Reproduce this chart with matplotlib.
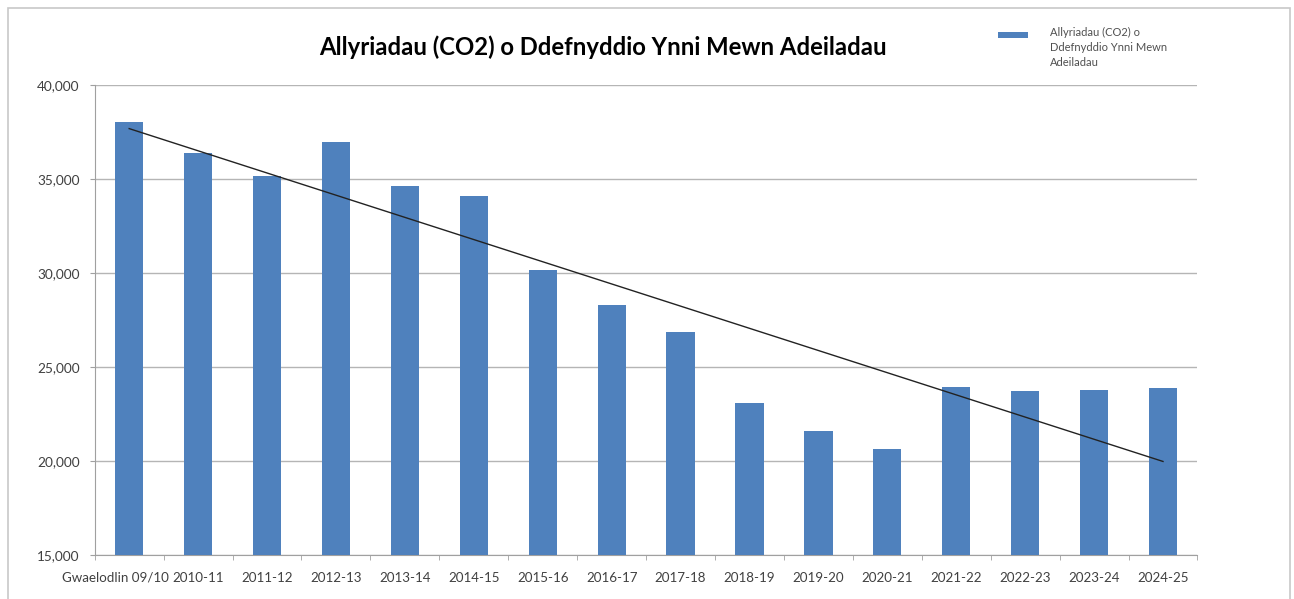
import numpy as np
import matplotlib
matplotlib.use("Agg")
import matplotlib.pyplot as plt
from matplotlib.patches import Rectangle
from matplotlib.transforms import ScaledTranslation

plt.rcParams['font.family'] = ['Lato', 'DejaVu Sans']

years = ["Gwaelodlin 09/10", "2010-11", "2011-12", "2012-13", "2013-14", "2014-15",
         "2015-16", "2016-17", "2017-18", "2018-19", "2019-20", "2020-21",
         "2021-22", "2022-23", "2023-24", "2024-25"]
emissions = [38020, 36400, 35180, 36950, 34650, 34100, 30160, 28300, 26850,
             23070, 21610, 20640, 23920, 23740, 23780, 23870]
series_name = "Allyriadau (CO2) o\nDdefnyddio Ynni Mewn\nAdeiladau"
title = "Allyriadau (CO2) o Ddefnyddio Ynni Mewn Adeiladau"

fig = plt.figure(figsize=(12.94, 5.99), dpi=100)
ax = fig.add_axes([0.0732, 0.0735, 0.8522, 0.7846])

# chart border
fig.patches.append(Rectangle((8 / 1294, -0.05), 1282 / 1294, 1 - 8 / 599 + 0.05,
                             transform=fig.transFigure, fill=False,
                             edgecolor='#c8c8c8', linewidth=1.2))

x = np.arange(len(years))
bars = ax.bar(x, emissions, width=0.41, color='#4F81BD', zorder=3)

# linear trendline
k, b = np.polyfit(x, emissions, 1)
ax.plot([x[0], x[-1]], [k * x[0] + b, k * x[-1] + b], color='#222222',
        linewidth=1.0, zorder=4)

ax.set_xlim(-0.5, len(years) - 0.5)
ax.set_ylim(15000, 40000)
ax.set_yticks(range(15000, 40001, 5000))
ax.set_yticklabels([f"{v:,}" for v in range(15000, 40001, 5000)])
ax.yaxis.grid(True, color='#b5b5b5', linewidth=1.0, zorder=0)
ax.set_axisbelow(True)

ax.set_xticks(x)
ax.set_xticklabels(years)
ax.set_xticks(np.arange(-0.5, len(years), 1.0), minor=True)
ax.tick_params(axis='x', which='major', length=0, pad=12, labelsize=9.6, labelcolor='#404040')
ax.tick_params(axis='x', which='minor', length=3.6, color='#a0a0a0')
ax.tick_params(axis='y', length=3.6, color='#a0a0a0', pad=7.2, labelsize=9.8, labelcolor='#404040')

for side in ['top', 'right']:
    ax.spines[side].set_visible(False)
for side in ['left', 'bottom']:
    ax.spines[side].set_color('#a0a0a0')

first = ax.get_xticklabels()[0]
first.set_horizontalalignment('right')
first.set_transform(first.get_transform() + ScaledTranslation(0.40, 0, fig.dpi_scale_trans))

fig.text(603 / 1294, 1 - 47 / 599, title, ha='center', va='center',
         fontsize=17.2, fontweight='bold', color='#000000')

leg = fig.legend([bars], [series_name], loc='upper left', bbox_to_anchor=(988 / 1294, 1 - 17 / 599),
                 frameon=False, fontsize=8, handlelength=2.7, handleheight=0.45,
                 handletextpad=2.0, labelcolor='#505050')
for t in leg.get_texts():
    t.set_linespacing(1.45)
# Excel puts the key next to the first lines, not the middle of the label
h = leg.legend_handles[0]
h.set_y(h.get_y() + 9.4)

fig.savefig("out.png", dpi=100)
